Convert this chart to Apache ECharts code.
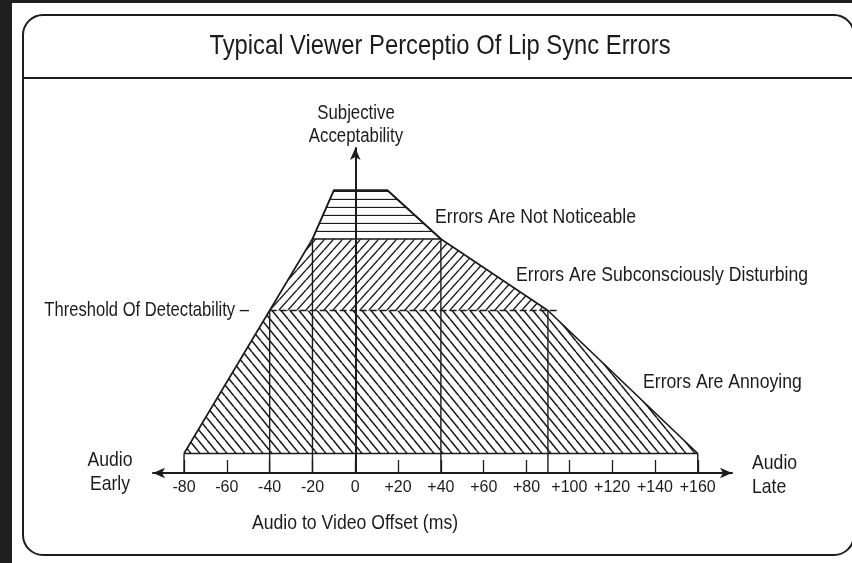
<!DOCTYPE html>
<html>
<head>
<meta charset="utf-8">
<title>Typical Viewer Perceptio Of Lip Sync Errors</title>
<script src="https://cdn.jsdelivr.net/npm/echarts@6/dist/echarts.min.js"></script>
<style>
  html, body { margin: 0; padding: 0; background: #1f1f1f; }
  #chart { width: 852px; height: 563px; }
</style>
</head>
<body>
<div id="chart"></div>
<script>
// offsets (ms) along the outline of the acceptability shape, left to right
const outlineX = [-80, -40, -20, -10, 15, 40, 90, 160]
// subjective acceptability at each offset (arbitrary 0..100 scale)
const outlineY = [6, 50, 72, 87, 87, 72, 50, 6]

// zones from bottom to top, zone k uses outline points k, k+1, 6-k, 7-k
const zoneNames = ['Errors Are Annoying', 'Errors Are Subconsciously Disturbing', 'Errors Are Not Noticeable']

// vertical guide lines dropped to the offset axis
const guideX = [-80, -40, -20, 40, 90, 160]
const guideTop = [6, 50, 72, 72, 50, 6]

// dashed threshold of detectability
const thresholdX = [-40, 95]
const thresholdLevel = 50

const tickValues = [-80, -60, -40, -20, 0, 20, 40, 60, 80, 100, 120, 140, 160]

// narrow look: Arial metrics squeezed horizontally
const FONT = '"Liberation Sans", Arial, sans-serif'
const SQUEEZE = 0.84
const INK = '#1c1c1c'

// hatch tiles: 'h' horizontal, 'b' backslash, 'f' forward slash
function hatch(kind, w, h, lw) {
  const c = document.createElement('canvas')
  c.width = w
  c.height = h
  const g = c.getContext('2d')
  g.strokeStyle = INK
  g.lineWidth = lw
  g.beginPath()
  if (kind === 'h') {
    g.moveTo(0, h - 0.5)
    g.lineTo(w, h - 0.5)
  } else {
    for (let k = -1; k <= 1; k++) {
      if (kind === 'b') {
        g.moveTo(k * w, 0)
        g.lineTo(k * w + w, h)
      } else {
        g.moveTo(k * w, h)
        g.lineTo(k * w + w, 0)
      }
    }
  }
  g.stroke()
  return { image: c, repeat: 'repeat' }
}

const patterns = [hatch('b', 9, 11, 1.5), hatch('f', 9, 10, 1.4), hatch('h', 8, 8, 1.3)]

function label(text, x, y, size, align, squeeze) {
  return {
    type: 'text',
    x: x,
    y: y,
    z: 100,
    scaleX: squeeze || SQUEEZE,
    silent: true,
    style: {
      text: text,
      font: size + 'px ' + FONT,
      fill: INK,
      textAlign: align || 'left',
      textVerticalAlign: 'middle',
      lineHeight: Math.round(size * 1.15)
    }
  }
}

const chart = echarts.init(document.getElementById('chart'))

chart.setOption({
  animation: false,
  backgroundColor: '#1f1f1f',
  grid: { left: 153, right: 120, top: 148, bottom: 90 },
  xAxis: {
    type: 'value',
    min: -94.5,
    max: 176,
    splitLine: { show: false },
    axisLine: {
      symbol: ['arrow', 'arrow'],
      symbolSize: [8, 12],
      lineStyle: { color: INK, width: 2 }
    },
    axisTick: {
      customValues: tickValues,
      inside: true,
      length: 13,
      lineStyle: { color: INK, width: 1.3 }
    },
    axisLabel: {
      customValues: tickValues,
      hideOverlap: false,
      showMinLabel: true,
      showMaxLabel: true,
      margin: 7,
      color: INK,
      fontSize: 16,
      fontFamily: FONT,
      formatter: v => (v > 0 ? '+' + v : '' + v)
    }
  },
  yAxis: {
    type: 'value',
    min: 0,
    max: 100,
    splitLine: { show: false },
    axisTick: { show: false },
    axisLabel: { show: false },
    axisLine: {
      onZero: true,
      symbol: ['none', 'arrow'],
      symbolSize: [8, 12],
      lineStyle: { color: INK, width: 2 }
    }
  },
  graphic: [
    { type: 'rect', z: -10, silent: true, shape: { x: 12, y: 3, width: 840, height: 560 }, style: { fill: '#fff' } },
    { type: 'rect', z: -9, silent: true, shape: { x: 23, y: 15, width: 831, height: 540, r: 20 }, style: { fill: '#fff', stroke: INK, lineWidth: 2 } },
    { type: 'line', z: -9, silent: true, shape: { x1: 23, y1: 78, x2: 854, y2: 78 }, style: { stroke: INK, lineWidth: 2 } },
    label('Typical Viewer Perceptio Of Lip Sync Errors', 440, 46, 28, 'center', 0.85),
    label('Subjective\nAcceptability', 356, 125, 20, 'center'),
    label('Threshold Of Detectability \u2013', 249, 310, 21, 'right', 0.79),
    label(zoneNames[2], 435, 217, 21),
    label(zoneNames[1], 516, 275, 21),
    label(zoneNames[0], 643, 382, 21),
    label('Audio\nEarly', 110, 472, 21, 'center'),
    label('Audio\nLate', 752, 475, 21),
    label('Audio to Video Offset (ms)', 355, 523, 21, 'center')
  ],
  series: [
    {
      type: 'custom',
      name: 'zones',
      silent: true,
      z: 2,
      data: zoneNames.map((n, k) => [k]),
      renderItem: function (params, api) {
        const k = api.value(0)
        const pts = [k, k + 1, 6 - k, 7 - k].map(i => api.coord([outlineX[i], outlineY[i]]))
        return {
          type: 'polygon',
          shape: { points: pts },
          style: { fill: patterns[k], stroke: k === 2 ? INK : null, lineWidth: 1.6 }
        }
      }
    },
    {
      type: 'custom',
      name: 'guides',
      silent: true,
      z: 3,
      data: guideX.map((x, i) => [x, guideTop[i]]),
      renderItem: function (params, api) {
        const a = api.coord([api.value(0), 0])
        const b = api.coord([api.value(0), api.value(1)])
        return {
          type: 'line',
          shape: { x1: a[0], y1: a[1], x2: b[0], y2: b[1] },
          style: { stroke: INK, lineWidth: 1.4 }
        }
      }
    },
    {
      type: 'line',
      name: 'outline',
      silent: true,
      z: 4,
      symbol: 'none',
      lineStyle: { color: INK, width: 1.7 },
      data: outlineX.map((x, i) => [x, outlineY[i]]).concat([[outlineX[0], outlineY[0]]])
    },
    {
      type: 'line',
      name: 'threshold',
      silent: true,
      z: 4,
      symbol: 'none',
      lineStyle: { color: INK, width: 1.5, type: [7, 3] },
      data: thresholdX.map(x => [x, thresholdLevel])
    }
  ]
})
</script>
</body>
</html>
